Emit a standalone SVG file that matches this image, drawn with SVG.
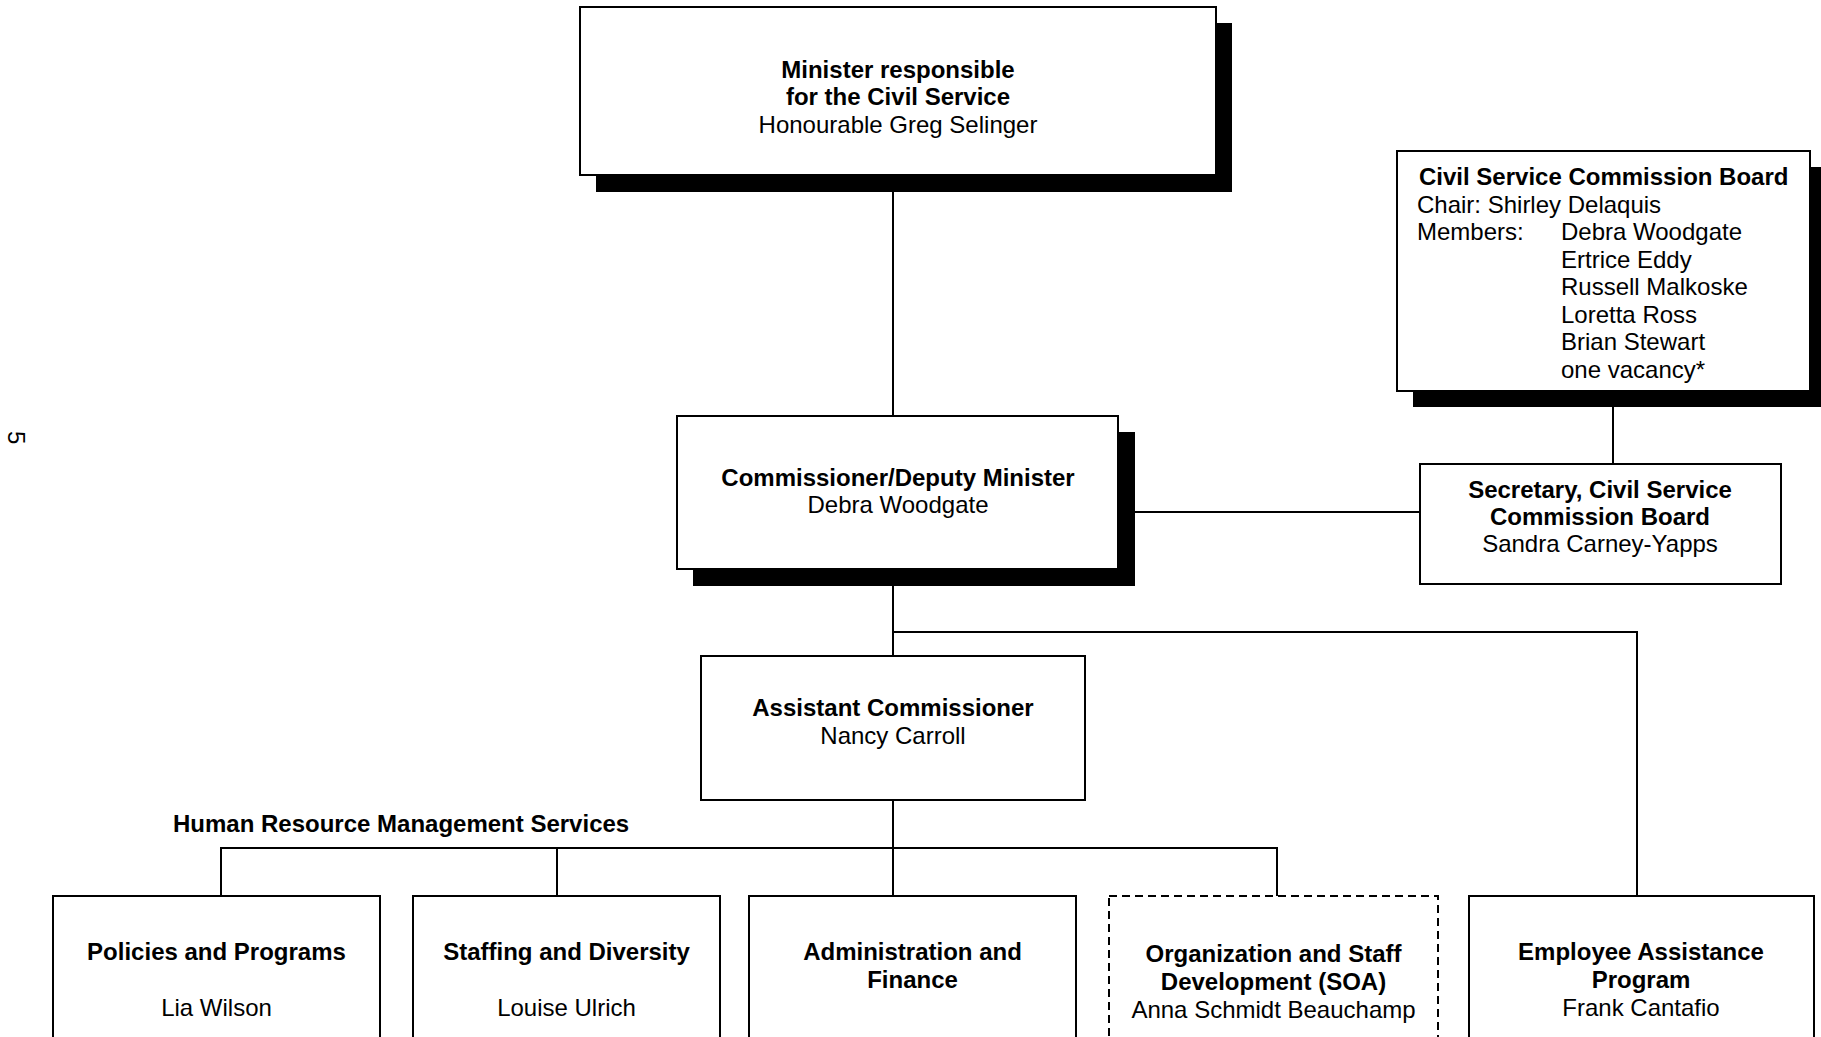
<svg xmlns="http://www.w3.org/2000/svg" width="1821" height="1037" viewBox="0 0 1821 1037">
<style>
.bx{fill:#fff;stroke:#000;stroke-width:2}
.dash{fill:#fff;stroke:#000;stroke-width:2;stroke-dasharray:8,5}
.sh{fill:#000}
.ln{fill:none;stroke:#000;stroke-width:2}
text{font-family:"Liberation Sans",Arial,sans-serif;font-size:24px;fill:#000}
.c{text-anchor:middle}
.b{font-weight:bold}
</style>
<rect width="1821" height="1037" fill="#fff"/>
<text transform="translate(8,431) rotate(90)">5</text>
<g id="connectors">
<path class="ln" d="M893 175V416"/>
<path class="ln" d="M893 569V656"/>
<path class="ln" d="M893 632H1637V896"/>
<path class="ln" d="M1118 512H1420"/>
<path class="ln" d="M1613 391V464"/>
<path class="ln" d="M893 800V896"/>
<path class="ln" d="M221 896V848H1277V896"/>
<path class="ln" d="M557 848V896"/>
</g>
<g id="minister">
<rect class="sh" x="596" y="23" width="636" height="169"/>
<rect class="bx" x="580" y="7" width="636" height="168"/>
<text class="c b" x="898" y="78">Minister responsible</text>
<text class="c b" x="898" y="105">for the Civil Service</text>
<text class="c" x="898" y="133">Honourable Greg Selinger</text>
</g>
<g id="board">
<rect class="sh" x="1413" y="167" width="420" height="240"/>
<rect class="bx" x="1397" y="151" width="413" height="240"/>
<text class="b" x="1419" y="185">Civil Service Commission Board</text>
<text x="1417" y="212.5">Chair: Shirley Delaquis</text>
<text x="1417" y="240">Members:</text>
<text x="1561" y="240">Debra Woodgate</text>
<text x="1561" y="267.5">Ertrice Eddy</text>
<text x="1561" y="295">Russell Malkoske</text>
<text x="1561" y="322.5">Loretta Ross</text>
<text x="1561" y="350">Brian Stewart</text>
<text x="1561" y="377.5">one vacancy*</text>
</g>
<g id="commissioner">
<rect class="sh" x="693" y="432" width="442" height="154"/>
<rect class="bx" x="677" y="416" width="441" height="153"/>
<text class="c b" x="898" y="486">Commissioner/Deputy Minister</text>
<text class="c" x="898" y="513">Debra Woodgate</text>
</g>
<g id="secretary">
<rect class="bx" x="1420" y="464" width="361" height="120"/>
<text class="c b" x="1600" y="498">Secretary, Civil Service</text>
<text class="c b" x="1600" y="524.5">Commission Board</text>
<text class="c" x="1600" y="552">Sandra Carney-Yapps</text>
</g>
<g id="assistant">
<rect class="bx" x="701" y="656" width="384" height="144"/>
<text class="c b" x="893" y="716">Assistant Commissioner</text>
<text class="c" x="893" y="744">Nancy Carroll</text>
</g>
<text id="hrms-label" class="b" x="173" y="832">Human Resource Management Services</text>
<g id="policies">
<rect class="bx" x="53" y="896" width="327" height="170"/>
<text class="c b" x="216.5" y="960">Policies and Programs</text>
<text class="c" x="216.5" y="1016">Lia Wilson</text>
</g>
<g id="staffing">
<rect class="bx" x="413" y="896" width="307" height="170"/>
<text class="c b" x="566.5" y="960">Staffing and Diversity</text>
<text class="c" x="566.5" y="1016">Louise Ulrich</text>
</g>
<g id="admin">
<rect class="bx" x="749" y="896" width="327" height="170"/>
<text class="c b" x="912.5" y="960">Administration and</text>
<text class="c b" x="912.5" y="988">Finance</text>
</g>
<g id="orgdev">
<rect class="dash" x="1109" y="896" width="329" height="170"/>
<text class="c b" x="1273.5" y="962">Organization and Staff</text>
<text class="c b" x="1273.5" y="989.5">Development (SOA)</text>
<text class="c" x="1273.5" y="1018">Anna Schmidt Beauchamp</text>
</g>
<g id="eap">
<rect class="bx" x="1469" y="896" width="345" height="170"/>
<text class="c b" x="1641" y="960">Employee Assistance</text>
<text class="c b" x="1641" y="988">Program</text>
<text class="c" x="1641" y="1016">Frank Cantafio</text>
</g>
</svg>
